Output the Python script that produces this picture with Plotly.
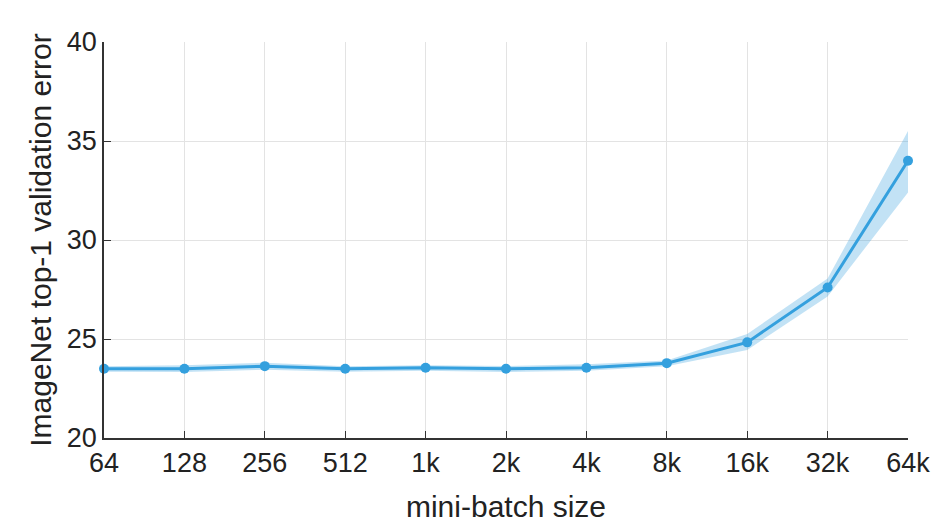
import plotly.graph_objects as go

categories = ["64", "128", "256", "512", "1k", "2k", "4k", "8k", "16k", "32k", "64k"]
error_mean = [23.5, 23.5, 23.63, 23.5, 23.55, 23.5, 23.55, 23.78, 24.83, 27.6, 34.0]
error_lower = [23.35, 23.33, 23.45, 23.35, 23.4, 23.33, 23.4, 23.62, 24.45, 27.15, 32.4]
error_upper = [23.62, 23.68, 23.8, 23.62, 23.68, 23.64, 23.72, 23.92, 25.25, 28.05, 35.5]
y_ticks = [20, 25, 30, 35, 40]

xs = list(range(len(categories)))
line_color = "rgb(52,160,222)"
band_color = "rgba(52,160,222,0.3)"

fig = go.Figure()
fig.add_trace(go.Scatter(x=xs, y=error_upper, mode="lines", line=dict(width=0),
                         showlegend=False, hoverinfo="skip"))
fig.add_trace(go.Scatter(x=xs, y=error_lower, mode="lines", line=dict(width=0),
                         fill="tonexty", fillcolor=band_color,
                         showlegend=False, hoverinfo="skip"))
fig.add_trace(go.Scatter(x=xs, y=error_mean, mode="lines+markers",
                         line=dict(color=line_color, width=3),
                         marker=dict(color=line_color, size=10),
                         showlegend=False, cliponaxis=False))

font_family = "Liberation Sans, Arial, Helvetica, sans-serif"
fig.update_layout(
    width=950, height=527,
    margin=dict(l=96, r=50, t=34, b=97),
    paper_bgcolor="white", plot_bgcolor="white",
    font=dict(family=font_family, color="#222222"),
    xaxis=dict(
        range=[0, len(categories) - 1],
        tickvals=xs, ticktext=categories,
        tickfont=dict(size=27, color="#222222"),
        showgrid=True, gridcolor="#e3e3e3", gridwidth=1,
        showline=True, linecolor="#333333", linewidth=1.5,
        ticks="inside", ticklen=7, tickcolor="#333333",
        zeroline=False, automargin=False,
        title=dict(text="mini-batch size", font=dict(size=30, color="#222222"), standoff=19),
    ),
    yaxis=dict(
        range=[20, 40],
        tickvals=y_ticks,
        tickfont=dict(size=27, color="#222222"),
        showgrid=True, gridcolor="#e3e3e3", gridwidth=1,
        showline=True, linecolor="#333333", linewidth=1.5,
        ticks="inside", ticklen=7, tickcolor="#333333",
        zeroline=False, automargin=False,
        title=dict(text="ImageNet top-1 validation error", font=dict(size=30, color="#222222"), standoff=6),
    ),
)

fig.write_html("out.html")
